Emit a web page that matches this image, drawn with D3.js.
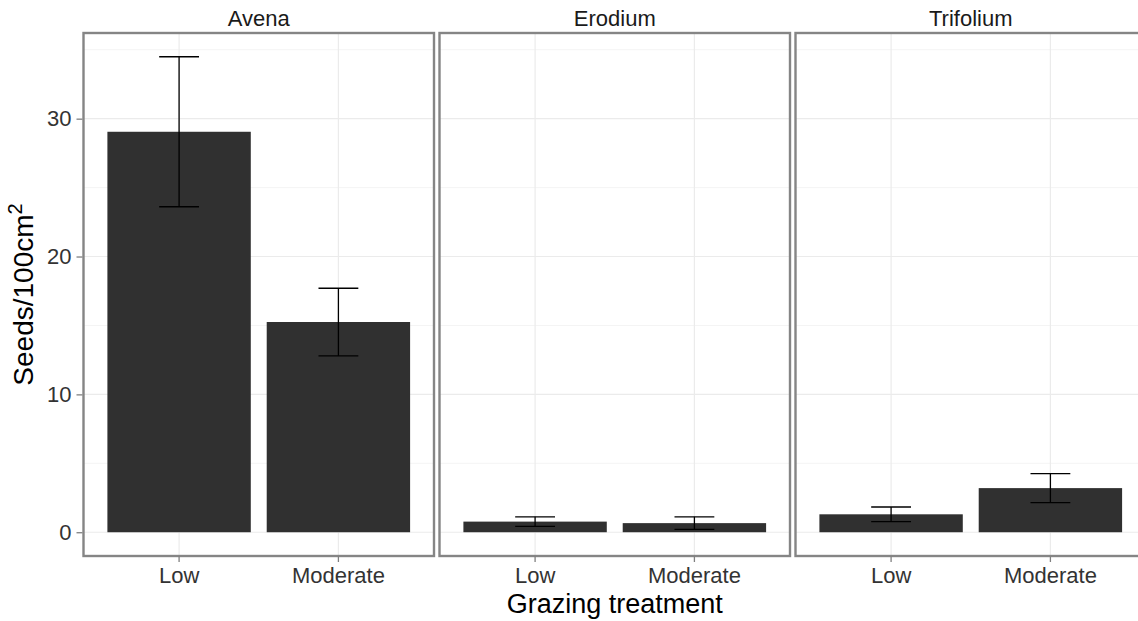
<!DOCTYPE html>
<html>
<head>
<meta charset="utf-8">
<script src="https://cdn.jsdelivr.net/npm/d3@7"></script>
<style>
  html, body { margin: 0; padding: 0; background: #ffffff; }
  svg { display: block; font-family: "Liberation Sans", Arial, Helvetica, sans-serif; }
</style>
</head>
<body>
<svg id="chart" width="1138" height="621"></svg>
<script>
// Seed density by species (facets) and grazing treatment, mean ± SE
const species = ["Avena", "Erodium", "Trifolium"];
const treatments = ["Low", "Moderate"];
const meanLow = [29.05, 0.77, 1.3];
const meanModerate = [15.25, 0.66, 3.2];
const seLow = [5.44, 0.35, 0.53];
const seModerate = [2.45, 0.46, 1.05];
const yTicks = [0, 10, 20, 30];
const yMinorTicks = [5, 15, 25, 35];

const rows = [];
species.forEach((s, i) => {
  rows.push({ species: s, treatment: "Low", mean: meanLow[i], se: seLow[i] });
  rows.push({ species: s, treatment: "Moderate", mean: meanModerate[i], se: seModerate[i] });
});

const svg = d3.select("#chart");

const panelTop = 33, panelBottom = 556;
const step = 356, gapFrac = 5.5 / 356;
const facet = d3.scaleBand()
  .domain(species)
  .range([83.5, 83.5 + step * (species.length - gapFrac)])
  .paddingInner(gapFrac)
  .paddingOuter(0);
const W = facet.bandwidth();

const yMax = d3.max(rows, d => d.mean + d.se);
const y = d3.scaleLinear()
  .domain([-0.05 * yMax, 1.05 * yMax])
  .range([panelBottom, panelTop]);

const x = d3.scaleBand()
  .domain(treatments)
  .range([0, W])
  .paddingInner(0.1)
  .paddingOuter(0.15);

const errW = x.step() * 0.25;

species.forEach(s => {
  const g = svg.append("g").attr("transform", `translate(${facet(s)},0)`);
  const data = rows.filter(d => d.species === s);

  // background grid
  g.selectAll("line.minor").data(yMinorTicks).join("line")
    .attr("x1", 0).attr("x2", W)
    .attr("y1", d => y(d)).attr("y2", d => y(d))
    .attr("stroke", "#f4f4f4").attr("stroke-width", 1);
  g.selectAll("line.major").data(yTicks).join("line")
    .attr("x1", 0).attr("x2", W)
    .attr("y1", d => y(d)).attr("y2", d => y(d))
    .attr("stroke", "#ebebeb").attr("stroke-width", 1.2);
  g.selectAll("line.vgrid").data(treatments).join("line")
    .attr("x1", d => x(d) + x.bandwidth() / 2).attr("x2", d => x(d) + x.bandwidth() / 2)
    .attr("y1", panelTop).attr("y2", panelBottom)
    .attr("stroke", "#ebebeb").attr("stroke-width", 1.2);

  // bars
  g.selectAll("rect.bar").data(data).join("rect")
    .attr("x", d => x(d.treatment))
    .attr("width", x.bandwidth())
    .attr("y", d => y(d.mean))
    .attr("height", d => y(0) - y(d.mean))
    .attr("fill", "#303030");

  // error bars
  const eb = g.selectAll("g.err").data(data).join("g")
    .attr("transform", d => `translate(${x(d.treatment) + x.bandwidth() / 2},0)`);
  eb.append("line")
    .attr("x1", 0).attr("x2", 0)
    .attr("y1", d => y(d.mean + d.se)).attr("y2", d => y(d.mean - d.se))
    .attr("stroke", "#000").attr("stroke-width", 1.3);
  eb.append("line")
    .attr("x1", -errW / 2).attr("x2", errW / 2)
    .attr("y1", d => y(d.mean + d.se)).attr("y2", d => y(d.mean + d.se))
    .attr("stroke", "#000").attr("stroke-width", 1.3);
  eb.append("line")
    .attr("x1", -errW / 2).attr("x2", errW / 2)
    .attr("y1", d => y(d.mean - d.se)).attr("y2", d => y(d.mean - d.se))
    .attr("stroke", "#000").attr("stroke-width", 1.3);

  // panel border
  g.append("rect")
    .attr("x", 0).attr("y", panelTop)
    .attr("width", W).attr("height", panelBottom - panelTop)
    .attr("fill", "none").attr("stroke", "#858585").attr("stroke-width", 2.4);

  // strip label
  g.append("text")
    .attr("x", W / 2).attr("y", 26)
    .attr("text-anchor", "middle")
    .attr("font-size", 22).attr("fill", "#1a1a1a")
    .text(s);

  // x axis
  const xa = g.append("g")
    .attr("transform", `translate(0,${panelBottom})`)
    .call(d3.axisBottom(x).tickSize(6).tickPadding(5).tickSizeOuter(0));
  xa.select(".domain").remove();
  xa.selectAll(".tick line").attr("stroke", "#808080").attr("stroke-width", 1.3);
  xa.selectAll(".tick text").attr("font-size", 22).attr("fill", "#333")
    .attr("font-family", "'Liberation Sans', Arial, sans-serif");
});

// y axis on the first facet
const ya = svg.append("g")
  .attr("transform", `translate(${facet(species[0]) - 1},0)`)
  .call(d3.axisLeft(y).tickValues(yTicks).tickSize(6).tickPadding(5).tickSizeOuter(0));
ya.select(".domain").remove();
ya.selectAll(".tick line").attr("stroke", "#808080").attr("stroke-width", 1.3);
ya.selectAll(".tick text").attr("font-size", 22).attr("fill", "#333")
  .attr("font-family", "'Liberation Sans', Arial, sans-serif");

// axis titles
const xCenter = (facet.range()[0] + facet.range()[1]) / 2;
svg.append("text")
  .attr("x", xCenter).attr("y", 613)
  .attr("text-anchor", "middle")
  .attr("font-size", 27).attr("fill", "#000")
  .text("Grazing treatment");

const yt = svg.append("text")
  .attr("transform", `translate(33,${(panelTop + panelBottom) / 2}) rotate(-90)`)
  .attr("text-anchor", "middle")
  .attr("font-size", 28).attr("fill", "#000");
yt.append("tspan").text("Seeds/100cm");
yt.append("tspan").attr("font-size", 20).attr("dy", -11).text("2");
</script>
</body>
</html>
